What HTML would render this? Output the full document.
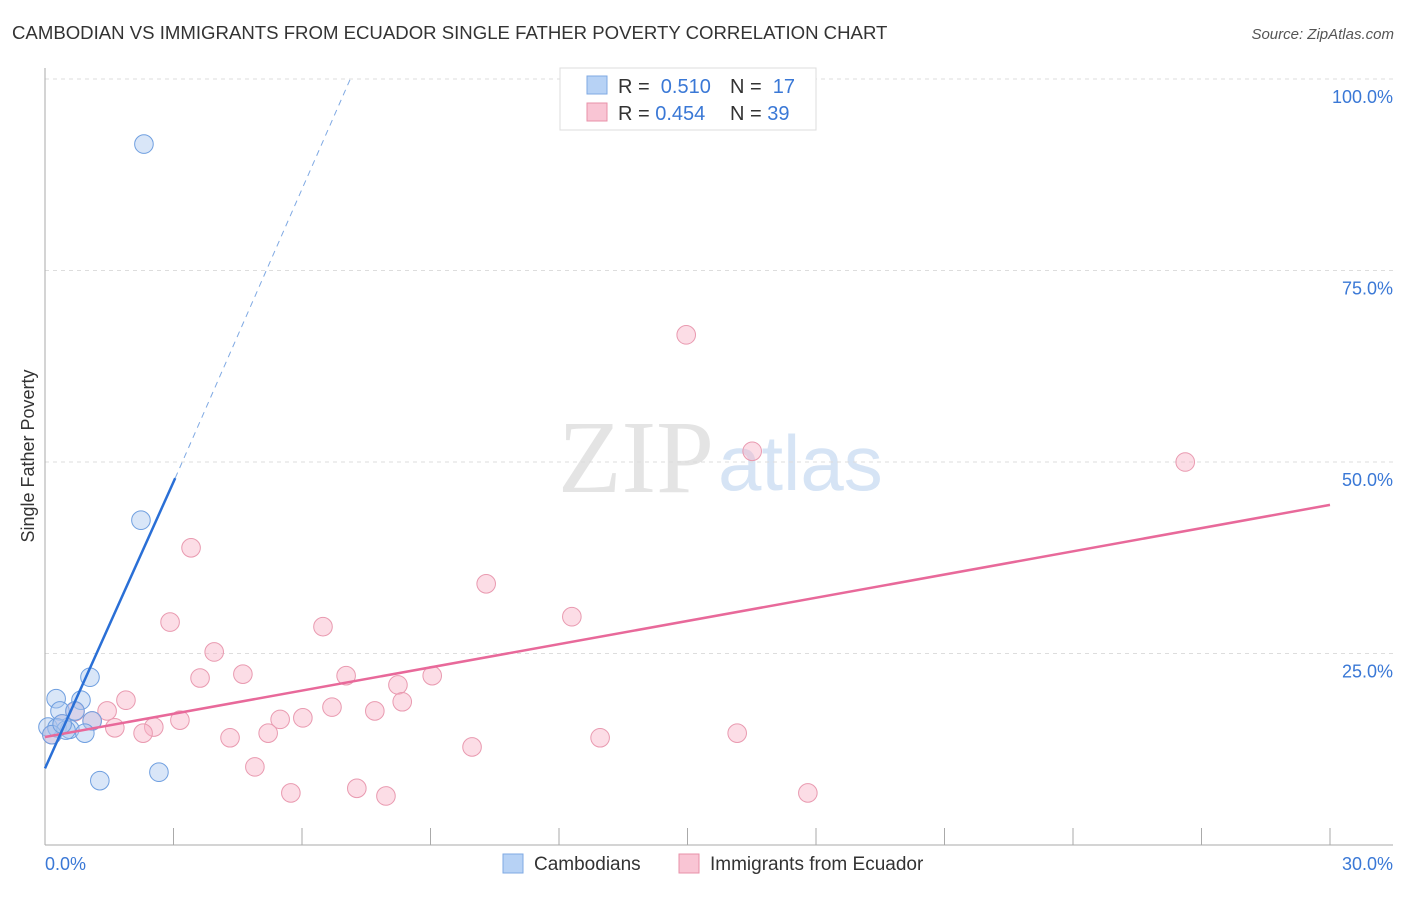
<!DOCTYPE html>
<html><head><meta charset="utf-8"><style>
body{margin:0;background:#fff;font-family:"Liberation Sans",sans-serif}
</style></head><body>
<svg width="1406" height="892" xmlns="http://www.w3.org/2000/svg" font-family="Liberation Sans, sans-serif">
<text x="12" y="39" font-size="18.6" fill="#333">CAMBODIAN VS IMMIGRANTS FROM ECUADOR SINGLE FATHER POVERTY CORRELATION CHART</text>
<text x="1394" y="39" font-size="15" fill="#555" font-style="italic" text-anchor="end">Source: ZipAtlas.com</text>
<text x="714" y="492" font-size="104" fill="#e4e4e4" text-anchor="end" font-family="Liberation Serif, serif">ZIP</text>
<text x="718" y="490" font-size="78" fill="#d6e4f5">atlas</text>
<g id="grid"></g>
<g id="axes"></g>
<g id="marks"></g>
<text x="34" y="456" font-size="18" fill="#333" text-anchor="middle" transform="rotate(-90 34 456)">Single Father Poverty</text>
<text x="45" y="870" font-size="18" fill="#3a78d6">0.0%</text>
<text x="1393" y="870" font-size="18" fill="#3a78d6" text-anchor="end">30.0%</text>
<g>
<rect x="560" y="68" width="256" height="62" fill="#fff" stroke="#ddd"/>
<rect x="587" y="76" width="20" height="18" fill="#b7d2f5" stroke="#7fa9e3"/>
<rect x="587" y="103" width="20" height="18" fill="#f9c5d4" stroke="#e891a9"/>
<text x="618" y="93" font-size="20" fill="#333">R = <tspan fill="#3a78d6">&#160;0.510</tspan></text>
<text x="730" y="93" font-size="20" fill="#333">N = <tspan fill="#3a78d6">&#160;17</tspan></text>
<text x="618" y="120" font-size="20" fill="#333">R = <tspan fill="#3a78d6">0.454</tspan></text>
<text x="730" y="120" font-size="20" fill="#333">N = <tspan fill="#3a78d6">39</tspan></text>
</g>
<g>
<rect x="503" y="854" width="20" height="19" fill="#b7d2f5" stroke="#7fa9e3"/>
<text x="534" y="870" font-size="19" fill="#333">Cambodians</text>
<rect x="679" y="854" width="20" height="19" fill="#f9c5d4" stroke="#e891a9"/>
<text x="710" y="870" font-size="19" fill="#333">Immigrants from Ecuador</text>
</g>
</svg>
<script>
const yTicks=[25,50,75,100];
const yTickLabels=["25.0%","50.0%","75.0%","100.0%"];
const xTicks=[3,6,9,12,15,18,21,24,27,30];
const blueX=[2.31,2.24,0.26,0.84,1.05,0.35,0.70,1.10,0.07,0.28,0.58,0.93,0.49,1.28,2.66,0.16,0.40];
const blueY=[91.5,42.4,19.1,18.9,21.9,17.5,17.5,16.2,15.4,15.3,15.1,14.6,15.0,8.4,9.5,14.4,15.8];
const pinkX=[14.97,16.51,26.62,3.41,10.30,12.30,2.92,6.49,3.95,4.62,7.03,3.62,9.04,8.24,1.89,1.45,6.70,7.70,8.34,5.49,6.02,3.15,1.10,1.63,2.54,2.29,5.21,4.32,9.97,12.96,16.16,4.90,5.74,7.28,7.96,17.81,0.16,0.40,0.70];
const pinkY=[66.6,51.4,50.0,38.8,34.1,29.8,29.1,28.5,25.2,22.3,22.1,21.8,22.1,20.9,18.9,17.5,18.0,17.5,18.7,16.4,16.6,16.3,16.2,15.3,15.4,14.6,14.6,14.0,12.8,14.0,14.6,10.2,6.8,7.4,6.4,6.8,14.4,15.8,17.4];
const blueTrendX=[0,3.04,7.12];
const blueTrendY=[10.0,47.9,99.9];
const pinkTrendX=[0,30];
const pinkTrendY=[14.1,44.4];
const NS="http://www.w3.org/2000/svg";
const sx=v=>45+v*42.833;
const sy=v=>845-v*7.66;
function mk(tag,attrs,parent){const e=document.createElementNS(NS,tag);for(const k in attrs)e.setAttribute(k,attrs[k]);document.getElementById(parent).appendChild(e);return e;}
yTicks.forEach((t,i)=>{
  const l=mk('line',{x1:45,x2:1393,y1:sy(t),y2:sy(t),stroke:'#ddd','stroke-dasharray':'4,4'},'grid');
  
  
  const tx=mk('text',{x:1393,y:sy(t)+24,'font-size':18,fill:'#3a78d6','text-anchor':'end'},'grid');
  tx.textContent=yTickLabels[i];
  
  
});
let a=mk('line',{x1:45,x2:45,y1:68,y2:845,stroke:'#aaa'},'axes');


a=mk('line',{x1:45,x2:1393,y1:845,y2:845,stroke:'#aaa'},'axes');


xTicks.forEach(t=>{
  const l=mk('line',{x1:sx(t),x2:sx(t),y1:828,y2:845,stroke:'#aaa'},'axes');
  
  
});
pinkX.forEach((x,i)=>{
  const c=mk('circle',{cx:sx(x),cy:sy(pinkY[i]),r:9.3,fill:'rgba(248,180,200,0.45)',stroke:'#e99ab0','stroke-width':1},'marks');
  
  
});
blueX.forEach((x,i)=>{
  const c=mk('circle',{cx:sx(x),cy:sy(blueY[i]),r:9.3,fill:'rgba(170,200,240,0.45)',stroke:'#6f9fe0','stroke-width':1},'marks');
  
  
});
let t=mk('line',{x1:sx(pinkTrendX[0]),y1:sy(pinkTrendY[0]),x2:sx(pinkTrendX[1]),y2:sy(pinkTrendY[1]),stroke:'#e8699a','stroke-width':2.5},'marks');


t=mk('line',{x1:sx(blueTrendX[0]),y1:sy(blueTrendY[0]),x2:sx(blueTrendX[1]),y2:sy(blueTrendY[1]),stroke:'#2a6fd6','stroke-width':2.5},'marks');


t=mk('line',{x1:sx(blueTrendX[1]),y1:sy(blueTrendY[1]),x2:sx(blueTrendX[2]),y2:sy(blueTrendY[2]),stroke:'#7fa9e3','stroke-width':1,'stroke-dasharray':'6,5'},'marks');


</script>
</body></html>
